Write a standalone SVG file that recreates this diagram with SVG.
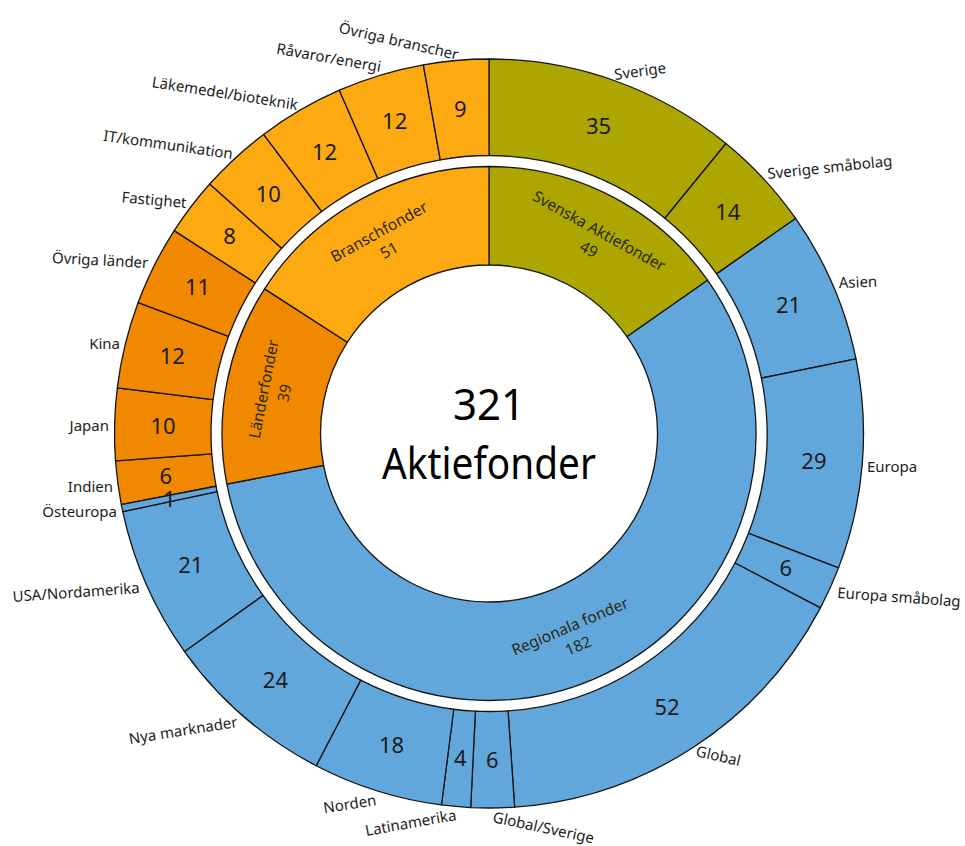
<svg xmlns="http://www.w3.org/2000/svg" width="965" height="846" viewBox="0 0 965 846">
<style>
  .seg { stroke: #141414; stroke-width: 1.3; stroke-linejoin: round; }
  .olive { fill: #ADA500; }
  .blue { fill: #62A7DC; }
  .dorange { fill: #F08800; }
  .lorange { fill: #FDA912; }
  text { font-family: "Noto Sans", "Open Sans", sans-serif; fill: #1c1c1c; }
  .num { font-size: 22px; text-anchor: middle; }
  .lbl { font-size: 15px; }
  .end { text-anchor: end; }
  .grp { font-size: 15.5px; text-anchor: middle; fill: #2a2a10; }
  .center { font-size: 44px; text-anchor: middle; fill: #000; }
</style>
<rect width="965" height="846" fill="#fff"/>

<!-- Inner ring -->
<g id="svenska-aktiefonder">
  <path class="seg olive" d="M489,166.5 A267,267 0 0 1 707.59,280.18 L626.95,336.74 A168.5,168.5 0 0 0 489,265 Z"/>
  <g transform="translate(594,240) rotate(29)"><text class="grp" y="-5">Svenska Aktiefonder</text><text class="grp" y="16">49</text></g>
</g>
<g id="regionala-fonder">
  <path class="seg blue" d="M707.59,280.18 A267,267 0 1 1 226.85,484.15 L323.56,465.46 A168.5,168.5 0 1 0 626.95,336.74 Z"/>
  <g transform="translate(574,636) rotate(-23)"><text class="grp" y="-5">Regionala fonder</text><text class="grp" y="16">182</text></g>
</g>
<g id="landerfonder">
  <path class="seg dorange" d="M226.85,484.15 A267,267 0 0 1 264.58,288.85 L347.37,342.21 A168.5,168.5 0 0 0 323.56,465.46 Z"/>
  <g transform="translate(274,391) rotate(-79)"><text class="grp" y="-5">Länderfonder</text><text class="grp" y="16">39</text></g>
</g>
<g id="branschfonder">
  <path class="seg lorange" d="M264.58,288.85 A267,267 0 0 1 489,166.5 L489,265 A168.5,168.5 0 0 0 347.37,342.21 Z"/>
  <g transform="translate(384,241) rotate(-29)"><text class="grp" y="-5">Branschfonder</text><text class="grp" y="16">51</text></g>
</g>

<!-- Centre -->
<g id="total">
  <text class="center" x="489" y="420" textLength="72" lengthAdjust="spacingAndGlyphs">321</text>
  <text class="center" x="489" y="479" textLength="214" lengthAdjust="spacingAndGlyphs">Aktiefonder</text>
</g>

<!-- Outer ring -->
<g id="sverige">
  <path class="seg olive" d="M489,59 A374.5,374.5 0 0 1 725.96,143.49 L664.90,218.22 A278,278 0 0 0 489,155.5 Z"/>
  <text class="num" x="598.5" y="134.4">35</text>
  <text class="lbl" transform="translate(615,80) rotate(-8)">Sverige</text>
</g>
<g id="sverige-smabolag">
  <path class="seg olive" d="M725.96,143.49 A374.5,374.5 0 0 1 795.60,218.44 L716.59,273.86 A278,278 0 0 0 664.90,218.22 Z"/>
  <text class="num" x="727.8" y="219.6">14</text>
  <text class="lbl" transform="translate(768,179) rotate(-6)">Sverige småbolag</text>
</g>
<g id="asien">
  <path class="seg blue" d="M795.60,218.44 A374.5,374.5 0 0 1 855.99,358.87 L761.42,378.10 A278,278 0 0 0 716.59,273.86 Z"/>
  <text class="num" x="788.5" y="312.7">21</text>
  <text class="lbl" transform="translate(839,288) rotate(-2)">Asien</text>
</g>
<g id="europa">
  <path class="seg blue" d="M855.99,358.87 A374.5,374.5 0 0 1 838.56,567.89 L748.49,533.26 A278,278 0 0 0 761.42,378.10 Z"/>
  <text class="num" x="813.9" y="468.6">29</text>
  <text class="lbl" x="867" y="472">Europa</text>
</g>
<g id="europa-smabolag">
  <path class="seg blue" d="M838.56,567.89 A374.5,374.5 0 0 1 820.41,607.91 L735.01,562.97 A278,278 0 0 0 748.49,533.26 Z"/>
  <text class="num" x="785.9" y="576.1">6</text>
  <text class="lbl" transform="translate(837,598) rotate(4)">Europa småbolag</text>
</g>
<g id="global">
  <path class="seg blue" d="M820.41,607.91 A374.5,374.5 0 0 1 514.63,807.12 L508.03,710.85 A278,278 0 0 0 735.01,562.97 Z"/>
  <text class="num" x="667" y="714.6">52</text>
  <text class="lbl" transform="translate(695,756) rotate(13)">Global</text>
</g>
<g id="global-sverige">
  <path class="seg blue" d="M514.63,807.12 A374.5,374.5 0 0 1 470.68,807.55 L475.40,711.17 A278,278 0 0 0 508.03,710.85 Z"/>
  <text class="num" x="492.2" y="767.5">6</text>
  <text class="lbl" transform="translate(492,822) rotate(12)">Global/Sverige</text>
</g>
<g id="latinamerika">
  <path class="seg blue" d="M470.68,807.55 A374.5,374.5 0 0 1 441.48,804.97 L453.72,709.25 A278,278 0 0 0 475.40,711.17 Z"/>
  <text class="num" x="460.3" y="766.2">4</text>
  <text class="lbl end" transform="translate(457,820) rotate(-10)">Latinamerika</text>
</g>
<g id="norden">
  <path class="seg blue" d="M441.48,804.97 A374.5,374.5 0 0 1 316.21,765.76 L360.73,680.14 A278,278 0 0 0 453.72,709.25 Z"/>
  <text class="num" x="391.6" y="752.6">18</text>
  <text class="lbl end" transform="translate(377,805) rotate(-9)">Norden</text>
</g>
<g id="nya-marknader">
  <path class="seg blue" d="M316.21,765.76 A374.5,374.5 0 0 1 184.52,651.55 L262.98,595.36 A278,278 0 0 0 360.73,680.14 Z"/>
  <text class="num" x="275.4" y="687.7">24</text>
  <text class="lbl end" transform="translate(238,727) rotate(-9)">Nya marknader</text>
</g>
<g id="usa-nordamerika">
  <path class="seg blue" d="M184.52,651.55 A374.5,374.5 0 0 1 122.76,511.72 L217.13,491.57 A278,278 0 0 0 262.98,595.36 Z"/>
  <text class="num" x="190.8" y="573.2">21</text>
  <text class="lbl end" transform="translate(140,593) rotate(-4)">USA/Nordamerika</text>
</g>
<g id="indien">
  <path class="seg dorange" d="M121.30,504.54 A374.5,374.5 0 0 1 115.51,460.97 L211.75,453.89 A278,278 0 0 0 216.05,486.24 Z"/>
  <text class="num" x="165.8" y="483.5">6</text>
  <text class="lbl end" x="113" y="492">Indien</text>
</g>
<g id="osteuropa">
  <path class="seg blue" d="M122.76,511.72 A374.5,374.5 0 0 1 121.30,504.54 L216.05,486.24 A278,278 0 0 0 217.13,491.57 Z"/>
  <text class="num" x="169.5" y="506.5">1</text>
  <text class="lbl end" x="117" y="517">Östeuropa</text>
</g>
<g id="japan">
  <path class="seg dorange" d="M115.51,460.97 A374.5,374.5 0 0 1 117.30,387.80 L213.08,399.58 A278,278 0 0 0 211.75,453.89 Z"/>
  <text class="num" x="163.1" y="433.5">10</text>
  <text class="lbl end" x="109" y="431">Japan</text>
</g>
<g id="kina">
  <path class="seg dorange" d="M117.30,387.80 A374.5,374.5 0 0 1 138.14,302.55 L228.55,336.29 A278,278 0 0 0 213.08,399.58 Z"/>
  <text class="num" x="172.3" y="364.1">12</text>
  <text class="lbl end" x="120" y="349">Kina</text>
</g>
<g id="ovriga-lander">
  <path class="seg dorange" d="M138.14,302.55 A374.5,374.5 0 0 1 174.22,230.61 L255.33,282.89 A278,278 0 0 0 228.55,336.29 Z"/>
  <text class="num" x="197.6" y="295.4">11</text>
  <text class="lbl end" transform="translate(148,268) rotate(3)">Övriga länder</text>
</g>
<g id="fastighet">
  <path class="seg lorange" d="M174.22,230.61 A374.5,374.5 0 0 1 209.71,184.00 L281.68,248.29 A278,278 0 0 0 255.33,282.89 Z"/>
  <text class="num" x="229.6" y="244">8</text>
  <text class="lbl end" transform="translate(186,208) rotate(5)">Fastighet</text>
</g>
<g id="it-kommunikation">
  <path class="seg lorange" d="M209.71,184.00 A374.5,374.5 0 0 1 263.57,134.44 L321.66,211.50 A278,278 0 0 0 281.68,248.29 Z"/>
  <text class="num" x="268.3" y="201.6">10</text>
  <text class="lbl end" transform="translate(232,159) rotate(8)">IT/kommunikation</text>
</g>
<g id="lakemedel-bioteknik">
  <path class="seg lorange" d="M263.57,134.44 A374.5,374.5 0 0 1 339.36,90.19 L377.92,178.65 A278,278 0 0 0 321.66,211.50 Z"/>
  <text class="num" x="324.6" y="160">12</text>
  <text class="lbl end" transform="translate(297,110) rotate(9)">Läkemedel/bioteknik</text>
</g>
<g id="ravaror-energi">
  <path class="seg lorange" d="M339.36,90.19 A374.5,374.5 0 0 1 423.37,64.79 L440.28,159.80 A278,278 0 0 0 377.92,178.65 Z"/>
  <text class="num" x="394.7" y="129.4">12</text>
  <text class="lbl end" transform="translate(380,72) rotate(10)">Råvaror/energi</text>
</g>
<g id="ovriga-branscher">
  <path class="seg lorange" d="M423.37,64.79 A374.5,374.5 0 0 1 489,59 L489,155.5 A278,278 0 0 0 440.28,159.80 Z"/>
  <text class="num" x="460.3" y="116.8">9</text>
  <text class="lbl end" transform="translate(457,60) rotate(13)">Övriga branscher</text>
</g>
</svg>
